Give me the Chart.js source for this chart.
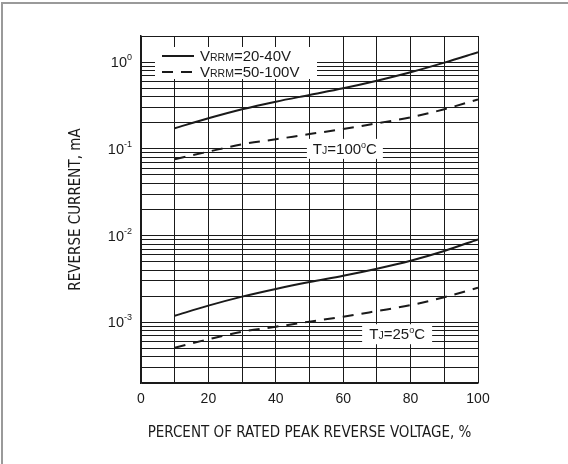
<!DOCTYPE html>
<html>
<head>
<meta charset="utf-8">
<script src="https://cdn.jsdelivr.net/npm/chart.js@4.4.1/dist/chart.umd.min.js"></script>
<style>
  html, body { margin: 0; padding: 0; background: #fff; }
  #frame { position: absolute; left: 1px; top: 2px; width: 600px; height: 500px;
           border-left: 2px solid #9a9a9a; border-top: 2px solid #9a9a9a; }
  #chart { position: absolute; left: 0; top: 0; }
</style>
</head>
<body>
<div id="frame"></div>
<canvas id="chart" width="568" height="464"></canvas>
<script>
// percent of rated peak reverse voltage
const percent = [10, 20, 30, 40, 50, 60, 70, 80, 90, 100];

// reverse current, mA
const hot20to40  = [0.173, 0.225, 0.286, 0.35, 0.418, 0.499, 0.61, 0.764, 0.986, 1.30];
const hot50to100 = [0.0759, 0.0929, 0.113, 0.129, 0.148, 0.169, 0.197, 0.231, 0.286, 0.372];
const cold20to40  = [0.00119, 0.00156, 0.00198, 0.00243, 0.00292, 0.00345, 0.00416, 0.00514, 0.00665, 0.00906];
const cold50to100 = [0.00051, 0.000638, 0.00078, 0.00089, 0.00102, 0.00116, 0.00135, 0.00158, 0.00195, 0.00251];

const yMin = 2e-4, yMax = 2;
const decades = [-4, -3, -2, -1, 0];
const mantissas = [1, 2, 3, 4, 5, 6, 7, 8, 9];
const decadeExponents = ['-4', '-3', '-2', '-1', '0'];

const yTicks = [];
decades.forEach(d => mantissas.forEach(m => {
  const v = +(m * Math.pow(10, d)).toPrecision(6);
  if (v >= yMin - 1e-12 && v <= yMax + 1e-12) yTicks.push(v);
}));

const tempLabels = [
  { x: 60.5, y: 0.1, text: [['T', 15], ['J', 10.5], ['=100', 15], ['o', 9, -6], ['C', 15]], w: 76 },
  { x: 76, y: 7.3e-4, text: [['T', 15], ['J', 10.5], ['=25', 15], ['o', 9, -6], ['C', 15]], w: 70 }
];
const legendText = [
  [['V', 15], ['RRM', 10.5], ['=20-40V', 15]],
  [['V', 15], ['RRM', 10.5], ['=50-100V', 15]]
];

const ink = '#1a1a1a';
const sans = "'Liberation Sans', Arial, sans-serif";
const narrow = "'Liberation Sans Narrow', 'DejaVu Sans Condensed', Arial, sans-serif";

function pairs(ys) { return percent.map((x, i) => ({ x: x, y: ys[i] })); }

function richWidth(ctx, parts) {
  let w = 0;
  parts.forEach(p => { ctx.font = p[1] + 'px ' + sans; w += ctx.measureText(p[0]).width; });
  return w;
}
function richText(ctx, parts, x, y) {
  ctx.textBaseline = 'alphabetic';
  ctx.textAlign = 'left';
  parts.forEach(p => {
    ctx.font = p[1] + 'px ' + sans;
    ctx.fillText(p[0], x, y + (p[2] || 0));
    x += ctx.measureText(p[0]).width;
  });
}

const overlay = {
  id: 'overlay',
  afterDraw(chart) {
    const { ctx, chartArea, scales } = chart;
    ctx.save();
    // decade labels on the log axis
    ctx.fillStyle = ink;
    decades.forEach((d, i) => {
      const v = Math.pow(10, d);
      if (v < yMin || v > yMax) return;
      const py = scales.y.getPixelForValue(v);
      const parts = [['10', 14.5], [decadeExponents[i], 9, -7]];
      const w = richWidth(ctx, parts);
      richText(ctx, parts, chartArea.left - 9 - w, py + 5);
    });
    // legend box
    const lx = chartArea.left + 14, ly = chartArea.top + 11;
    ctx.fillStyle = '#fff';
    ctx.fillRect(lx, ly, 162, 32);
    chart.data.datasets.slice(0, 2).forEach((ds, i) => {
      const yy = ly + 9 + i * 16;
      ctx.strokeStyle = ds.borderColor;
      ctx.lineWidth = ds.borderWidth;
      ctx.setLineDash(ds.borderDash || []);
      ctx.beginPath();
      ctx.moveTo(lx + 7, yy);
      ctx.lineTo(lx + 39, yy);
      ctx.stroke();
      ctx.setLineDash([]);
      ctx.fillStyle = ink;
      richText(ctx, legendText[i], lx + 45, yy + 5);
    });
    // temperature labels
    tempLabels.forEach(t => {
      const cx = scales.x.getPixelForValue(t.x);
      const cy = scales.y.getPixelForValue(t.y);
      ctx.fillStyle = '#fff';
      ctx.fillRect(cx - t.w / 2, cy - 10, t.w, 20);
      ctx.fillStyle = ink;
      const w = richWidth(ctx, t.text);
      richText(ctx, t.text, cx - w / 2, cy + 5);
    });
    ctx.restore();
  }
};

function series(label, ys, dashed) {
  return {
    label: label,
    data: pairs(ys),
    borderColor: ink,
    borderWidth: 2,
    borderDash: dashed ? [11, 8] : [],
    pointRadius: 0,
    fill: false,
    cubicInterpolationMode: 'monotone'
  };
}

new Chart(document.getElementById('chart'), {
  type: 'line',
  data: {
    datasets: [
      series('VRRM=20-40V', hot20to40, false),
      series('VRRM=50-100V', hot50to100, true),
      series('VRRM=20-40V, TJ=25', cold20to40, false),
      series('VRRM=50-100V, TJ=25', cold50to100, true)
    ]
  },
  options: {
    responsive: false,
    devicePixelRatio: 1,
    animation: false,
    layout: { padding: { left: 63, top: 36, right: 90, bottom: 18 } },
    plugins: { legend: { display: false }, tooltip: { enabled: false } },
    scales: {
      x: {
        type: 'linear',
        min: 0,
        max: 100,
        afterFit: s => { s.height = 63; },
        ticks: {
          stepSize: 10,
          autoSkip: false,
          maxRotation: 0,
          color: ink,
          padding: 8,
          font: { family: sans, size: 14 },
          callback: v => (v % 20 === 0 ? String(v) : '')
        },
        grid: { color: ink, lineWidth: 1, drawTicks: false },
        border: { color: ink, width: 1.5 },
        title: {
          display: true,
          text: 'PERCENT OF RATED PEAK REVERSE VOLTAGE, %',
          color: ink,
          font: { family: narrow, size: 15 },
          padding: { top: 4, bottom: 4 }
        }
      },
      y: {
        type: 'logarithmic',
        min: yMin,
        max: yMax,
        afterFit: s => { s.width = 78; },
        afterBuildTicks: s => { s.ticks = yTicks.map(v => ({ value: v })); },
        ticks: {
          autoSkip: false,
          color: ink,
          padding: 9,
          font: { family: sans, size: 14 },
          callback: () => ''
        },
        grid: { color: ink, lineWidth: 1, drawTicks: false },
        border: { color: ink, width: 1.5 },
        title: {
          display: true,
          text: 'REVERSE CURRENT, mA',
          color: ink,
          font: { family: narrow, size: 15 },
          padding: { top: 4, bottom: 4 }
        }
      }
    }
  },
  plugins: [overlay]
});
</script>
</body>
</html>
